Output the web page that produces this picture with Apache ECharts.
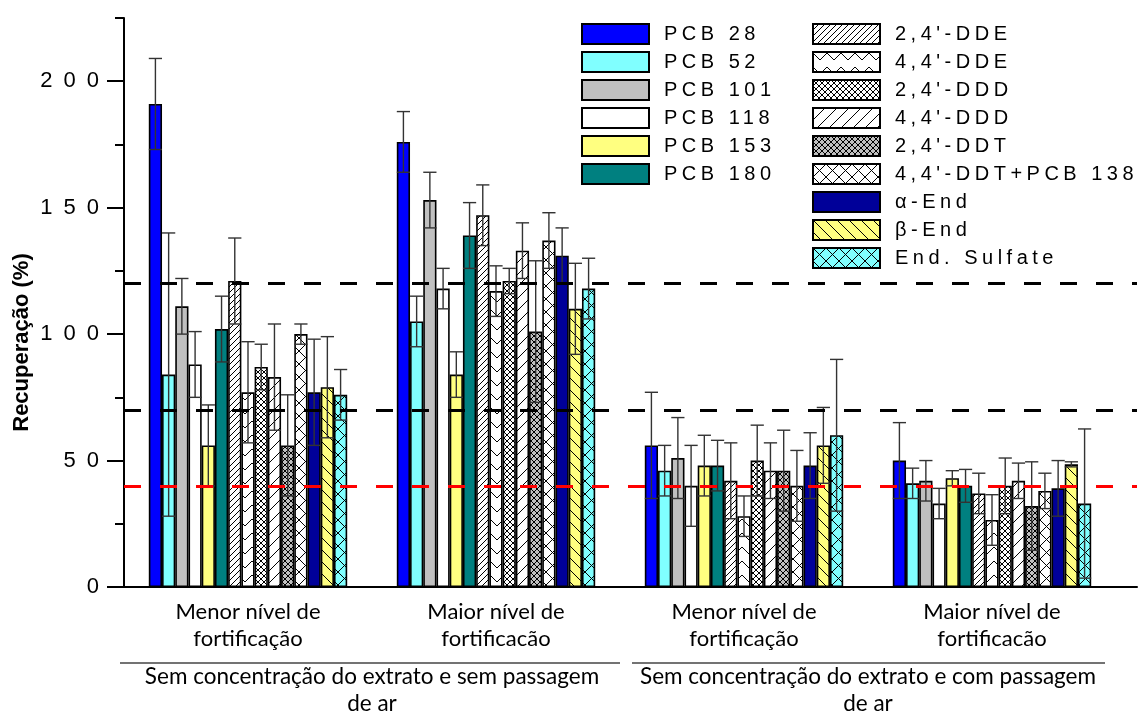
<!DOCTYPE html>
<html>
<head>
<meta charset="utf-8">
<script src="https://cdn.jsdelivr.net/npm/echarts@6/dist/echarts.min.js"></script>
<style>
  html, body { margin: 0; padding: 0; background: #fff; }
  #chart { width: 1140px; height: 713px; }
</style>
</head>
<body>
<div id="chart"></div>
<script>
// ---- data -------------------------------------------------------------
const levels = [
  'Menor nível de\nfortificação',
  'Maior nível de\nfortificacão',
  'Menor nível de\nfortificação',
  'Maior nível de\nfortificacão'
];
const conditions = [
  'Sem concentração do extrato e sem passagem\nde ar',
  'Sem concentração do extrato e com passagem\nde ar'
];
const analytes = [
  'PCB 28', 'PCB 52', 'PCB 101', 'PCB 118', 'PCB 153', 'PCB 180',
  "2,4'-DDE", "4,4'-DDE", "2,4'-DDD", "4,4'-DDD", "2,4'-DDT",
  "4,4'-DDT+PCB 138", 'α-End', 'β-End', 'End. Sulfate'
];
// mean recovery (%) per analyte, one array per level/condition block
const recSemArMenor = [191, 84, 111, 88, 56, 102, 121, 77, 87, 83, 56, 100, 77, 79, 76];
const recSemArMaior = [176, 105, 153, 118, 84, 139, 147, 117, 121, 133, 101, 137, 131, 110, 118];
const recComArMenor = [56, 46, 51, 40, 48, 48, 42, 28, 50, 46, 46, 40, 48, 56, 60];
const recComArMaior = [50, 41, 42, 33, 43, 40, 37, 26.5, 40, 42, 32, 38, 39, 48.5, 33];
// standard deviations
const sdSemArMenor = [18, 56, 11, 13, 16, 13, 17, 20, 9, 21, 20, 4, 21, 20, 10];
const sdSemArMaior = [12, 10, 11, 8, 9, 13, 12, 10, 5, 11, 28, 11, 11, 18, 12];
const sdComArMenor = [21, 10, 16, 16, 12, 10, 15, 8, 14, 11, 16, 14, 13, 15, 30];
const sdComArMaior = [15, 6, 8, 6, 3, 6.5, 8, 10, 11, 7, 17.5, 7, 11, 1, 29.5];
// acceptance limits drawn as dashed lines
const limitValues = [120, 70, 40];
const limitColors = ['#000000', '#000000', '#ff0000'];
// axis ticks
const yMajorTicks = [0, 50, 100, 150, 200];
const yMinorTicks = [25, 75, 125, 175, 225];

const recoveryBlocks = [recSemArMenor, recSemArMaior, recComArMenor, recComArMaior];
const sdBlocks = [sdSemArMenor, sdSemArMaior, sdComArMenor, sdComArMaior];

// ---- spaced lettering for the Arial-style labels ------------------------
(function () {
  const proto = CanvasRenderingContext2D.prototype;
  const baseFill = proto.fillText;
  proto.fillText = function (txt, x, y, maxW) {
    if ('letterSpacing' in this) {
      const f = this.font || '';
      this.letterSpacing = /Arial/.test(f) ? '11px'
        : (/Liberation Sans/.test(f) && !/bold/.test(f)) ? '4.5px' : '0px';
    }
    return maxW === undefined ? baseFill.call(this, txt, x, y) : baseFill.call(this, txt, x, y, maxW);
  };
})();

// ---- fill patterns ------------------------------------------------------
function tile(w, h, bg, draw) {
  const c = document.createElement('canvas');
  c.width = w; c.height = h;
  const g = c.getContext('2d');
  g.fillStyle = bg; g.fillRect(0, 0, w, h);
  g.strokeStyle = '#000'; g.lineWidth = 1; g.lineCap = 'square';
  g.beginPath(); draw(g, w, h); g.stroke();
  return { image: c, repeat: 'repeat' };
}
function slash(g, w, h) { g.moveTo(-1, h + 1); g.lineTo(w + 1, -1); g.moveTo(-1, 1); g.lineTo(1, -1); g.moveTo(w - 1, h + 1); g.lineTo(w + 1, h - 1); }
function backslash(g, w, h) { g.moveTo(-1, -1); g.lineTo(w + 1, h + 1); g.moveTo(w - 1, -1); g.lineTo(w + 1, 1); g.moveTo(-1, h - 1); g.lineTo(1, h + 1); }
function cross(g, w, h) { slash(g, w, h); backslash(g, w, h); }
function chevron(g, w, h) { g.moveTo(0, 1); g.lineTo(w / 2, h / 2 + 1); g.lineTo(w, 1); }

const fills = [
  '#0000ff', '#80ffff', '#c0c0c0', '#ffffff', '#ffff80', '#008080',
  tile(6, 6, '#ffffff', slash),
  tile(14, 14, '#ffffff', chevron),
  tile(6, 6, '#ffffff', cross),
  tile(12, 12, '#ffffff', slash),
  tile(6, 6, '#c0c0c0', cross),
  tile(13, 13, '#ffffff', cross),
  '#000099',
  tile(12, 12, '#ffff80', backslash),
  tile(13, 13, '#80ffff', cross)
];

// ---- series -------------------------------------------------------------
const N = analytes.length;
const barSeries = analytes.map((name, k) => ({
  name: name,
  type: 'bar',
  xAxisIndex: 0,
  yAxisIndex: 0,
  barGap: '0%',
  barCategoryGap: '20%',
  z: 2,
  itemStyle: { color: fills[k], borderColor: '#000', borderWidth: 1.6 },
  data: recoveryBlocks.map(block => block[k])
}));

const errData = [];
recoveryBlocks.forEach((block, g) => {
  block.forEach((v, k) => errData.push([g, k, v, sdBlocks[g][k]]));
});

const errorSeries = {
  type: 'custom',
  xAxisIndex: 0,
  yAxisIndex: 0,
  z: 3,
  silent: true,
  encode: { x: 0, y: 2 },
  data: errData,
  renderItem: function (params, api) {
    const g = api.value(0), k = api.value(1), v = api.value(2), e = api.value(3);
    const band = api.size([1, 0])[0];
    const groupW = band * 0.8;
    const bw = groupW / N;
    const cx = api.coord([g, 0])[0] - groupW / 2 + (k + 0.5) * bw;
    const yTop = api.coord([g, v + e])[1];
    const yBot = api.coord([g, v - e])[1];
    const half = bw / 2;
    const st = { stroke: '#333', lineWidth: 1.4 };
    return {
      type: 'group',
      children: [
        { type: 'line', shape: { x1: cx, y1: yTop, x2: cx, y2: yBot }, style: st },
        { type: 'line', shape: { x1: cx - half, y1: yTop, x2: cx + half, y2: yTop }, style: st },
        { type: 'line', shape: { x1: cx - half, y1: yBot, x2: cx + half, y2: yBot }, style: st }
      ]
    };
  }
};

const limitSeries = {
  type: 'line',
  xAxisIndex: 2,
  yAxisIndex: 2,
  z: 6,
  data: [],
  markLine: {
    silent: true,
    symbol: 'none',
    label: { show: false },
    lineStyle: { type: [17, 19], width: 3 },
    data: limitValues.map((v, i) => ({ yAxis: v, lineStyle: { color: limitColors[i], type: [17, 19], width: 3 } }))
  }
};

const legendText = { fontFamily: 'Liberation Sans', fontSize: 20, color: '#000', padding: [0, 0, 0, 10] };

const option = {
  animation: false,
  backgroundColor: '#fff',
  grid: [
    { left: 124, right: 24, top: 18, bottom: 126, outerBoundsMode: 'none', containLabel: false },
    { left: 124, right: 3, top: 18, bottom: 126, outerBoundsMode: 'none', containLabel: false }
  ],
  legend: [
    {
      data: analytes.slice(0, 6), orient: 'vertical', left: 576, top: 18,
      icon: 'rect', itemWidth: 67, itemHeight: 20, itemGap: 6,
      textStyle: legendText, selectedMode: false
    },
    {
      data: analytes.slice(6), orient: 'vertical', left: 807, top: 18,
      icon: 'rect', itemWidth: 67, itemHeight: 20, itemGap: 6,
      textStyle: legendText, selectedMode: false
    }
  ],
  xAxis: [
    {
      type: 'category', gridIndex: 0, data: levels,
      axisLine: { show: false }, axisTick: { show: false },
      axisLabel: { fontFamily: 'Lato', fontSize: 22, color: '#000', lineHeight: 27, margin: 11, interval: 0 }
    },
    {
      type: 'category', gridIndex: 0, data: conditions, position: 'bottom', offset: 66,
      axisLine: { show: false }, axisTick: { show: false },
      axisLabel: { fontFamily: 'Lato', fontSize: 22.5, color: '#000', lineHeight: 27, margin: 10, interval: 0 }
    },
    {
      type: 'value', gridIndex: 1, min: 0, max: 1, show: true,
      axisLine: { show: true, lineStyle: { color: '#000', width: 2 } },
      axisTick: { show: false }, axisLabel: { show: false }, splitLine: { show: false }
    }
  ],
  yAxis: [
    {
      type: 'value', gridIndex: 0, min: 0, max: 225, position: 'left',
      name: 'Recuperação (%)', nameLocation: 'middle', nameGap: 91, nameRotate: 90,
      nameTextStyle: { fontFamily: 'Liberation Sans', fontWeight: 'bold', fontSize: 22, color: '#000', padding: [0, 80, 0, 0] },
      axisLine: { show: true, lineStyle: { color: '#000', width: 2 } },
      axisTick: { show: true, length: 17, lineStyle: { color: '#000', width: 2 }, customValues: yMajorTicks },
      axisLabel: { fontFamily: 'Arial', fontSize: 22, color: '#000', margin: 14, customValues: yMajorTicks },
      splitLine: { show: false }
    },
    {
      type: 'value', gridIndex: 0, min: 0, max: 225, position: 'left',
      axisLine: { show: false },
      axisTick: { show: true, length: 9, lineStyle: { color: '#000', width: 2 }, customValues: yMinorTicks },
      axisLabel: { show: false }, splitLine: { show: false }
    },
    {
      type: 'value', gridIndex: 1, min: 0, max: 225, show: false
    }
  ],
  graphic: [
    { type: 'line', shape: { x1: 120, y1: 663, x2: 620, y2: 663 }, style: { stroke: '#444', lineWidth: 1.5 } },
    { type: 'line', shape: { x1: 632, y1: 663, x2: 1105, y2: 663 }, style: { stroke: '#444', lineWidth: 1.5 } }
  ],
  series: barSeries.concat([errorSeries, limitSeries])
};

const chart = echarts.init(document.getElementById('chart'), null, { renderer: 'canvas' });
chart.setOption(option);
</script>
</body>
</html>
